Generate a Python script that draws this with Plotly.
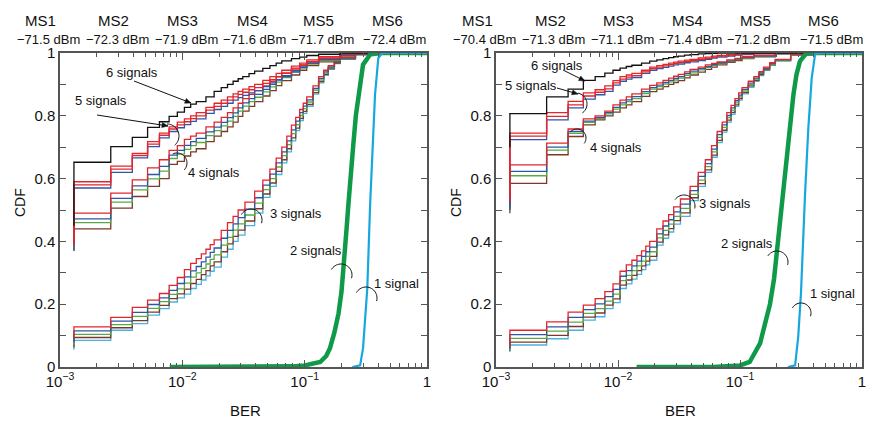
import math
import plotly.graph_objects as go

# ---------------- data ----------------
# BER grid of the stair-step CDFs (first value repeated: vertical start of the stair)
BER_STEPS_HI = [0.0013, 0.0013, 0.0026, 0.0039, 0.0052, 0.0065, 0.0078, 0.0091, 0.0104, 0.0117,
                0.013, 0.0156, 0.0182, 0.0208, 0.0234, 0.026, 0.0286, 0.0312, 0.0351, 0.039,
                0.0455, 0.052, 0.0585, 0.065, 0.078, 0.091, 0.104, 0.13, 0.195, 0.26, 0.39, 1.0]
BER_STEPS_3 = [0.0013, 0.0013, 0.0026, 0.0039, 0.0052, 0.0065, 0.0078, 0.0091, 0.0104, 0.0117,
               0.013, 0.0143, 0.0156, 0.0169, 0.0182, 0.0208, 0.0234, 0.026, 0.0286, 0.0325,
               0.039, 0.0455, 0.052, 0.0585, 0.065, 0.0715, 0.078, 0.0845, 0.091, 0.0975,
               0.104, 0.117, 0.13, 0.143, 0.156, 0.175, 0.195, 0.26, 0.39, 1.0]

# ---- left panel ----
L6_BLACK = [.45, .652, .702, .731, .763, .781, .798, .812, .827, .837, .845, .86, .878,
            .89, .90, .91, .918, .925, .934, .942, .951, .96, .968, .975, .982, .987, .992, .996, 1, 1, 1, 1]
L5_RED = [.40, .59, .64, .68, .718, .745, .765, .78, .79, .80, .81, .827, .84,
          .85, .86, .87, .878, .885, .893, .90, .913, .925, .935, .945, .958, .968, .978, .988, .998, 1, 1, 1]
L5_RED2 = [.385, .58, .63, .673, .71, .738, .758, .771, .781, .791, .80, .818, .83,
           .84, .85, .86, .868, .875, .883, .89, .903, .915, .925, .935, .949, .961, .973, .984, .997, 1, 1, 1]
L5_BLUE = [.37, .57, .62, .666, .702, .73, .75, .762, .772, .782, .79, .808, .82,
           .83, .84, .85, .858, .865, .873, .88, .893, .905, .915, .925, .94, .954, .968, .98, .995, 1, 1, 1]
L4_RED = [.40, .49, .554, .596, .634, .66, .69, .705, .725, .735, .745, .765, .78,
          .795, .81, .825, .84, .855, .868, .88, .895, .91, .924, .937, .952, .962, .972, .982, .995, 1, 1, 1]
L4_BLUE = [.39, .472, .537, .577, .613, .639, .675, .69, .706, .718, .728, .749, .764,
           .779, .794, .809, .825, .841, .855, .868, .884, .90, .914, .928, .944, .956, .968, .979, .993, .999, 1, 1]
L4_GREEN = [.382, .46, .525, .564, .599, .624, .664, .678, .693, .705, .715, .737, .753,
            .768, .783, .798, .815, .831, .845, .859, .876, .892, .907, .922, .939, .952, .965, .976, .992, .999, 1, 1]
L4_BROWN = [.37, .44, .506, .543, .575, .60, .645, .655, .672, .685, .695, .718, .735,
            .75, .765, .78, .798, .815, .83, .845, .863, .88, .896, .912, .93, .945, .96, .972, .99, .998, 1, 1]
L3_RED = [.09, .128, .158, .19, .213, .234, .26, .285, .31, .33, .345, .36, .375, .39, .405, .435, .46,
          .48, .50, .525, .56, .595,
          .63, .665, .70, .735, .77, .795, .82, .84, .86, .895, .925, .945, .96, .975, .985, .997, 1, 1]
L3_BLUE = [.08, .115, .146, .174, .199, .22, .244, .266, .287, .306, .32, .335, .35, .365, .379, .41,
           .435, .456, .476, .503, .539, .579,
           .614, .65, .685, .72, .755, .783, .81, .831, .851, .887, .919, .94, .956, .972, .984, .996, 1, 1]
L3_GREEN = [.071, .104, .135, .161, .187, .208, .231, .249, .267, .286, .30, .314, .328, .343, .357,
            .388, .413, .436, .456, .484, .522, .565,
            .60, .637, .673, .708, .743, .772, .801, .823, .844, .881, .914, .936, .953, .97, .982, .995, 1, 1]
L3_BROWN = [.062, .094, .125, .148, .175, .196, .218, .233, .248, .266, .279, .294, .307, .322, .335,
            .367, .392, .416, .436, .465, .504, .551,
            .586, .623, .66, .695, .73, .761, .792, .814, .836, .874, .909, .932, .95, .968, .981, .995, 1, 1]
L3_LIGHTBLUE = [.055, .085, .117, .138, .165, .186, .207, .22, .232, .25, .263, .277, .29, .305, .318,
                .35, .375, .40, .42, .45, .49, .54,
                .575, .613, .65, .685, .72, .753, .785, .808, .83, .869, .905, .929, .948, .966, .98, .994, 1, 1]
L2_BER = [0.0079, 0.05, 0.08, 0.1, 0.12, 0.134, 0.15, 0.161, 0.175, 0.189, 0.2, 0.208, 0.214, 0.22,
          0.228, 0.235, 0.25, 0.262, 0.275, 0.3, 0.343, 0.4, 1.0]
L2_CDF = [0, 0, 0.002, 0.005, 0.01, 0.016, 0.035, 0.06, 0.11, 0.17, 0.24, 0.31, 0.36, 0.44, 0.52,
          0.6, 0.71, 0.8, 0.867, 0.963, 0.995, 1, 1]
L1_BER = [0.245, 0.284, 0.3, 0.312, 0.325, 0.343, 0.36, 0.376, 0.4, 0.43, 1.0]
L1_CDF = [0, 0.005, 0.06, 0.149, 0.25, 0.52, 0.708, 0.867, 0.984, 1, 1]

# ---- right panel ----
R6_BLACK = [.70, .807, .86, .885, .913, .925, .936, .945, .952, .957, .961, .968, .974,
            .978, .982, .985, .988, .99, .993, .995, .997, .998, .999, 1, 1, 1, 1, 1, 1, 1, 1, 1]
R5_RED = [.55, .745, .81, .846, .873, .883, .895, .912, .925, .93, .935, .945, .955,
          .96, .964, .968, .971, .974, .977, .98, .984, .987, .99, .992, .995, .997, .998, 1, 1, 1, 1, 1]
R5_RED2 = [.525, .735, .798, .835, .863, .875, .886, .905, .917, .923, .928, .94, .95,
           .955, .959, .963, .967, .97, .973, .976, .98, .983, .987, .99, .993, .995, .997, .999, 1, 1, 1, 1]
R5_BLUE = [.50, .724, .787, .825, .853, .867, .878, .898, .91, .917, .922, .935, .945,
           .95, .954, .958, .962, .965, .969, .972, .976, .98, .984, .987, .99, .993, .995, .998, 1, 1, 1, 1]
R4_RED = [.52, .644, .713, .758, .79, .80, .815, .835, .85, .86, .87, .885, .897,
          .905, .913, .92, .926, .932, .94, .948, .955, .962, .967, .972, .978, .983, .988, .993, .999, 1, 1, 1]
R4_BLUE = [.51, .623, .70, .75, .783, .795, .81, .827, .841, .851, .861, .877, .89,
           .898, .906, .913, .919, .925, .934, .942, .95, .957, .963, .969, .975, .981, .986, .991, .998, 1, 1, 1]
R4_GREEN = [.502, .609, .691, .744, .779, .792, .806, .821, .835, .845, .855, .871, .885,
            .893, .901, .908, .914, .92, .929, .937, .946, .954, .96, .966, .973, .979, .984, .99, .998, 1, 1, 1]
R4_BROWN = [.49, .585, .676, .734, .771, .787, .80, .812, .825, .835, .845, .862, .877,
            .885, .893, .90, .906, .912, .921, .93, .939, .948, .955, .962, .97, .976, .982, .988, .997, 1, 1, 1]
R3_RED = [.065, .117, .144, .175, .197, .218, .24, .265, .305, .325, .34, .355, .37, .385, .40, .44,
          .465, .485, .51, .535, .575, .62,
          .66, .705, .75, .78, .81, .833, .855, .873, .89, .91, .925, .941, .955, .969, .98, .996, 1, 1]
R3_BLUE = [.06, .103, .128, .158, .183, .201, .224, .247, .289, .307, .322, .337, .352, .367, .382,
           .424, .449, .469, .494, .519, .562, .607,
           .648, .694, .74, .771, .801, .825, .848, .866, .884, .904, .92, .937, .952, .967, .979, .995, 1, 1]
R3_GREEN = [.056, .091, .114, .143, .171, .186, .21, .232, .275, .292, .307, .322, .337, .352, .367,
            .411, .435, .455, .48, .505, .55, .595,
            .638, .685, .731, .763, .794, .818, .841, .86, .879, .899, .917, .935, .95, .965, .977, .994, 1, 1]
R3_BROWN = [.052, .079, .101, .129, .159, .172, .197, .217, .261, .277, .292, .307, .322, .337, .352,
            .398, .421, .441, .466, .491, .539, .584,
            .628, .675, .722, .754, .786, .811, .835, .855, .874, .895, .913, .931, .947, .963, .976, .994, 1, 1]
R3_LIGHTBLUE = [.048, .07, .09, .117, .149, .16, .186, .205, .25, .265, .28, .295, .31, .325, .34,
                .388, .41, .43, .455, .48, .53, .575,
                .62, .668, .715, .748, .78, .805, .83, .85, .87, .891, .91, .928, .945, .961, .975, .993, 1, 1]
R2_BER = [0.0142, 0.06, 0.1, 0.12, 0.146, 0.16, 0.176, 0.19, 0.2, 0.21, 0.219, 0.226, 0.235, 0.249,
          0.262, 0.274, 0.29, 0.31, 0.351, 0.4, 1.0]
R2_CDF = [0, 0, 0.005, 0.016, 0.075, 0.13, 0.2, 0.28, 0.36, 0.44, 0.52, 0.57, 0.64, 0.72, 0.8, 0.867,
          0.93, 0.974, 1, 1, 1]
R1_BER = [0.247, 0.283, 0.3, 0.316, 0.341, 0.363, 0.387, 0.412, 0.45, 1.0]
R1_CDF = [0, 0.005, 0.096, 0.234, 0.548, 0.76, 0.92, 0.995, 1, 1]

MS_LABELS = ["MS1", "MS2", "MS3", "MS4", "MS5", "MS6"]
LEFT_POWER = ["\u221271.5 dBm", "\u221272.3 dBm", "\u221271.9 dBm", "\u221271.6 dBm", "\u221271.7 dBm", "\u221272.4 dBm"]
RIGHT_POWER = ["\u221270.4 dBm", "\u221271.3 dBm", "\u221271.1 dBm", "\u221271.4 dBm", "\u221271.2 dBm", "\u221271.5 dBm"]
X_TICK_VALS = [0.001, 0.01, 0.1, 1]
X_TICK_TEXT = ["10<sup>\u22123</sup>", "10<sup>\u22122</sup>", "10<sup>\u22121</sup>", "1"]

# ---------------- styling ----------------
RED = "#e3262c"
BLUE = "#2f55a4"
GREEN = "#58ab44"
BROWN = "#7a3a25"
LBLUE = "#4ab2e2"
BLACK = "#111111"
GREEN2 = "#0e9a48"
CYAN1 = "#17a7df"
FONT = "Liberation Sans, Arial, Helvetica, sans-serif"

W, H = 875, 424
ML, MR, MT, MB = 60, 13, 53, 57
PW, PH = W - ML - MR, H - MT - MB


def px(xp):
    return (xp - ML) / PW


def py(yp):
    return (H - MB - yp) / PH


fig = go.Figure()


def step(x, y, color, xa, ya, width=1.3, dash="solid"):
    fig.add_trace(go.Scatter(x=x, y=y, mode="lines", line=dict(color=color, width=width, shape="hv", dash=dash),
                             xaxis=xa, yaxis=ya, showlegend=False, hoverinfo="skip"))


def smooth(x, y, color, xa, ya, width):
    fig.add_trace(go.Scatter(x=x, y=y, mode="lines", line=dict(color=color, width=width),
                             xaxis=xa, yaxis=ya, showlegend=False, hoverinfo="skip"))


for xa, ya, g3, g4, g5, g6, g2, g1 in [
    ("x", "y", [L3_LIGHTBLUE, L3_BROWN, L3_GREEN, L3_BLUE, L3_RED], [L4_BROWN, L4_GREEN, L4_BLUE, L4_RED],
     [L5_BLUE, L5_RED2, L5_RED], L6_BLACK, (L2_BER, L2_CDF), (L1_BER, L1_CDF)),
    ("x2", "y2", [R3_LIGHTBLUE, R3_BROWN, R3_GREEN, R3_BLUE, R3_RED], [R4_BROWN, R4_GREEN, R4_BLUE, R4_RED],
     [R5_BLUE, R5_RED2, R5_RED], R6_BLACK, (R2_BER, R2_CDF), (R1_BER, R1_CDF)),
]:
    for ys, c in zip(g3, [LBLUE, BROWN, GREEN, BLUE, RED]):
        step(BER_STEPS_3, ys, c, xa, ya)
    for ys, c in zip(g4, [BROWN, GREEN, BLUE, RED]):
        step(BER_STEPS_HI, ys, c, xa, ya)
    for ys, c in zip(g5, [BLUE, RED, RED]):
        step(BER_STEPS_HI, ys, c, xa, ya)
    step(BER_STEPS_HI, g6, BLACK, xa, ya, width=1.3)
    smooth(g2[0], g2[1], GREEN2, xa, ya, 4.5)
    smooth(g1[0], g1[1], CYAN1, xa, ya, 2.2)

minor_x = [m * 10 ** e for e in (-3, -2, -1) for m in range(2, 10)]

axis_common = dict(showline=True, linecolor="#555", linewidth=1.5, mirror="ticks", ticks="inside",
                   tickcolor="#555", tickwidth=1, showgrid=False, zeroline=False,
                   tickfont=dict(family=FONT, size=15, color="#111"))
xcommon = dict(axis_common, type="log", range=[-3, 0], tickmode="array", tickvals=X_TICK_VALS,
               ticktext=X_TICK_TEXT, ticklen=7,
               minor=dict(tickmode="array", tickvals=minor_x, ticks="inside", ticklen=4, tickcolor="#555"))
ycommon = dict(axis_common, range=[0, 1], dtick=0.2, tick0=0, ticklen=6,
               minor=dict(dtick=0.1, tick0=0, ticks="inside", ticklen=6, tickcolor="#555"))

fig.update_layout(
    width=W, height=H, margin=dict(l=ML, r=MR, t=MT, b=MB, autoexpand=False),
    paper_bgcolor="white", plot_bgcolor="white",
    font=dict(family=FONT, color="#111"),
    xaxis=dict(xcommon, domain=[0, px(427)], anchor="y"),
    yaxis=dict(ycommon, domain=[0, 1], anchor="x"),
    xaxis2=dict(xcommon, domain=[px(496), 1], anchor="y2"),
    yaxis2=dict(ycommon, domain=[0, 1], anchor="x2"),
)

ann = []
shapes = []


def text(xp, yp, s, size=13, angle=0):
    ann.append(dict(x=px(xp), y=py(yp), xref="paper", yref="paper", text=s, showarrow=False,
                    font=dict(family=FONT, size=size, color="#111"), xanchor="center", yanchor="middle",
                    textangle=angle))


def arrow(tx, ty, hx, hy, head=6.0, half=2.5):
    shapes.append(dict(type="line", x0=px(tx), y0=py(ty), x1=px(hx), y1=py(hy), xref="paper", yref="paper",
                       line=dict(color="#111", width=1)))
    d = math.hypot(hx - tx, hy - ty)
    ux, uy = (hx - tx) / d, (hy - ty) / d
    bx, by = hx - head * ux, hy - head * uy
    p1 = (bx - half * uy, by + half * ux)
    p2 = (bx + half * uy, by - half * ux)
    path = (f"M {px(hx):.5f},{py(hy):.5f} L {px(p1[0]):.5f},{py(p1[1]):.5f} "
            f"L {px(p2[0]):.5f},{py(p2[1]):.5f} Z")
    shapes.append(dict(type="path", path=path, xref="paper", yref="paper", fillcolor="#111",
                       line=dict(color="#111", width=0.5)))


def arc(cx, cy, r, a0, a1, n=24):
    pts = []
    for i in range(n + 1):
        a = math.radians(a0 + (a1 - a0) * i / n)
        pts.append((px(cx + r * math.cos(a)), py(cy - r * math.sin(a))))
    path = "M " + " L ".join(f"{a:.5f},{b:.5f}" for a, b in pts)
    shapes.append(dict(type="path", path=path, xref="paper", yref="paper",
                       line=dict(color="#111", width=1)))


# top labels
for lab, pw, xm, xd in zip(MS_LABELS, LEFT_POWER, [40, 113, 182, 252, 318, 387], [48, 117.5, 186, 254.7, 322.7, 394]):
    text(xm, 20.5, lab, size=15)
    text(xd, 39.5, pw, size=13)
for lab, pw, xm, xd in zip(MS_LABELS, RIGHT_POWER, [477, 550, 618, 687, 755, 823], [484, 553, 622, 690, 758, 831]):
    text(xm, 20.5, lab, size=15)
    text(xd, 39.5, pw, size=13)

# axis titles
text(20, 203, "CDF", size=14, angle=-90)
text(456, 203, "CDF", size=14, angle=-90)
text(245, 410, "BER", size=15)
text(680, 410, "BER", size=15)

# left annotations
text(132, 72, "6 signals"); arrow(134, 81, 191, 103)
text(101, 101, "5 signals"); arrow(97, 115, 168, 126); arc(167, 136, 12, 90, -50)
text(214, 172, "4 signals"); arc(177, 163, 10, 115, -45)
text(296, 213, "3 signals"); arc(251, 220, 11, 150, -17)
text(316, 250, "2 signals"); arc(341, 275, 11, 150, -17)
text(396, 283, "1 signal"); arc(366, 298, 11, 150, -16)
# right annotations
text(557, 65, "6 signals"); arrow(563, 70, 585, 81)
text(531, 85, "5 signals"); arrow(557, 88, 578, 94); arc(576, 104, 11, 80, -55)
text(616, 147, "4 signals"); arc(577, 138, 9, 135, -37)
text(725, 203, "3 signals"); arc(684, 206, 11, 144, -13)
text(747, 243, "2 signals"); arc(777, 262, 11, 146, -15)
text(832, 293, "1 signal"); arc(801, 313, 10, 149, -19)

fig.update_layout(annotations=ann, shapes=shapes)
fig.write_html("out.html", config={"displayModeBar": False},
               post_script="document.body.style.margin='0px';document.body.style.overflow='hidden';")
